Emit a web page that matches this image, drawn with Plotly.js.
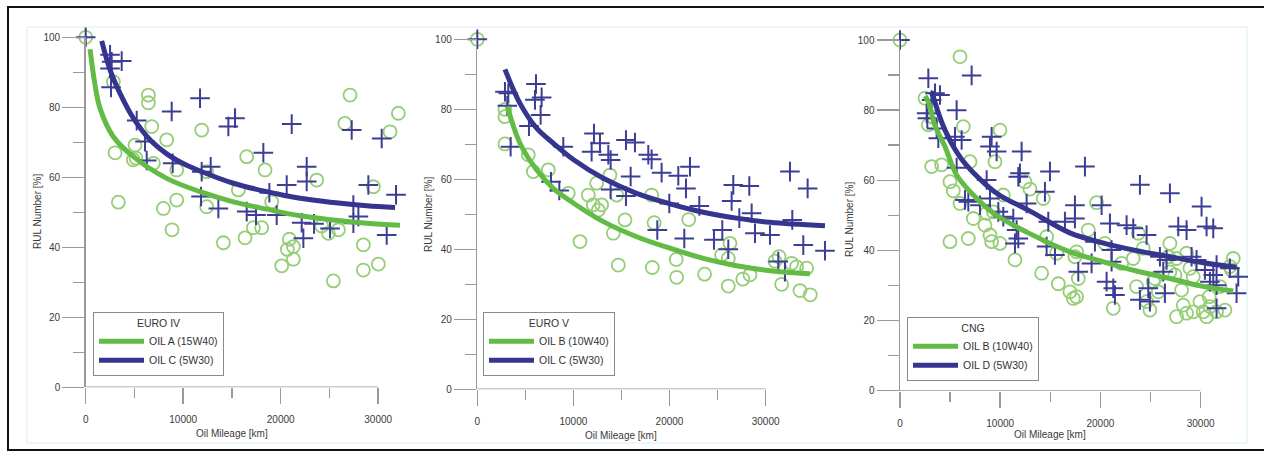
<!DOCTYPE html>
<html><head><meta charset="utf-8">
<script src="https://cdn.plot.ly/plotly-3.0.1.min.js"></script>
<style>html,body{margin:0;padding:0;background:#fff}#chart{width:1264px;height:461px}</style>
</head><body><div id="chart"></div>
<script>
// ---------- DATA ----------
// Panel 1: EURO IV
const p1GreenX = [0,2838,3009,3350,4890,5060,5150,6430,6430,6770,6940,7966,8308,8855,9333,9333,11897,12410,12410,14120,15658,16342,16513,17197,18051,18393,19077,20103,20684,20889,21300,21300,23692,24205,24889,25915,25402,26581,27111,28478,28478,29504,30017,31214,32068];
const p1GreenY = [100,87.3,67.0,52.9,65.0,69.2,65.5,83.5,81.3,74.5,64.0,51.1,70.7,45.0,62.1,53.5,73.5,61.6,51.6,41.3,56.4,42.7,65.9,45.6,45.6,62.1,53.0,34.7,39.4,42.3,40.2,36.6,59.2,46.1,44.0,45.0,30.4,75.4,83.5,33.5,40.7,57.3,35.2,73.0,78.3];
const p1BlueX = [0,2496,2667,3692,2496,2598,5231,6085,6256,8820,8923,11726,11897,11829,12821,13607,14632,15316,16513,17470,18222,18838,19590,20615,21128,22154,22325,22667,22667,23419,25060,27282,27453,27453,27966,28991,30359,30872,31829];
const p1BlueY = [100,95.0,93.0,93.2,91.1,85.7,76.2,70.2,64.8,78.8,64.0,82.6,61.6,54.5,63.0,51.1,74.5,76.9,50.2,49.2,67.0,55.6,49.2,57.8,75.2,47.0,42.6,63.0,58.8,46.7,45.4,73.5,52.1,46.9,48.8,57.8,71.1,43.5,55.0];
const p1FitGreenX = [444,957,1470,2838,4889,8308,11726,15145,18564,21983,25402,28820,32239];
const p1FitGreenY = [96.6,86.4,79.7,71.6,65.9,59.7,55.9,53.0,50.9,49.0,47.8,46.9,46.3];
const p1FitBlueX = [1641,2496,3521,4889,6598,8308,9949,11726,15145,18564,21983,25402,28820,31726];
const p1FitBlueY = [99.0,90.7,84.0,76.9,70.7,66.7,64.0,61.8,58.3,55.9,54.0,52.8,51.9,51.4];

// Panel 2: EURO V
const p2GreenX = [0,2879,2879,2879,5307,5827,7388,9469,10683,11550,12071,12591,12938,12418,13805,14500,14152,14672,15366,18141,18400,18210,20700,20742,22000,23650,25425,26119,26292,26119,27630,28374,30975,31400,31668,32709,33229,33576,34270,34650];
const p2GreenY = [100,80.0,77.9,70.1,67.0,62.2,62.7,56.0,42.2,55.5,52.7,51.2,52.7,58.9,61.2,55.5,44.6,35.5,48.4,55.5,47.6,34.8,37.1,32.0,48.5,32.9,38.4,29.5,41.7,37.4,31.5,32.7,36.6,37.9,30.0,36.0,35.0,28.2,34.6,27.0];
const p2BlueX = [0,2879,3226,3122,3469,6105,6001,6694,6590,5376,8949,7666,8533,12140,11897,12765,13632,13875,13875,15470,16407,15956,15470,17794,18141,19181,18731,19979,20916,21714,22130,21540,23101,24627,25494,26119,26639,26466,28305,27264,28548,28895,30456,31321,32015,32535,32778,33923,34374,36179];
const p2BlueY = [100,85.0,84.6,81.0,69.3,87.2,82.7,83.4,78.4,75.2,69.3,59.3,56.8,73.1,67.9,70.3,67.0,65.5,57.1,71.2,70.5,60.8,55.2,67.0,65.7,61.9,45.5,53.1,61.0,57.4,63.6,43.1,52.4,42.7,45.5,40.0,58.4,53.8,58.1,48.9,50.3,44.6,44.1,36.5,33.6,62.2,48.4,41.2,57.4,39.6];
const p2FitGreenX = [3122,4440,6174,7908,10059,13111,16580,20048,23517,26986,30455,34617];
const p2FitGreenY = [80.8,70.3,62.7,57.4,53.1,47.9,43.6,40.3,37.4,35.3,33.9,33.0];
const p2FitBlueX = [2879,4440,6174,7908,10059,13111,16580,20048,23517,26986,30455,36179];
const p2FitBlueY = [91.4,81.7,74.6,70.3,65.5,60.3,56.0,53.0,50.6,48.9,47.7,46.7];

// Panel 3: CNG
const p3GreenX = [0,5986,2494,2827,3300,3159,4157,6319,6984,9478,9977,4988,5321,5987,4988,6817,7316,8480,8647,8979,9145,9977,9312,10309,11473,12471,12970,14300,14633,14134,15630,15797,16960,17625,17459,17792,17625,17293,18790,19621,20452,21283,22115,23279,23611,23778,24277,24610,24942,25275,25441,25774,26772,26938,26938,27436,27603,27603,28102,28268,28600,28600,28933,29265,29265,29931,30264,30596,30863,30929,31595,31927,32426,32925,33091,33258];
const p3GreenY = [100,95.2,83.4,75.8,78.0,63.9,64.4,75.3,65.3,65.3,74.3,59.6,57.0,53.4,42.5,43.4,49.1,47.2,50.6,44.4,42.5,42.0,51.0,55.8,37.3,59.6,57.5,54.8,43.9,33.5,39.2,30.5,28.2,26.8,38.2,32.0,39.6,26.3,45.8,53.6,42.0,23.5,36.3,37.7,29.7,44.9,40.6,25.4,23.0,31.1,32.0,28.2,38.2,42.0,33.9,33.0,21.1,37.7,28.7,24.4,22.1,39.2,34.9,32.5,22.5,25.4,22.5,21.1,26.8,24.0,22.5,29.7,23.0,35.4,34.4,37.7];
const p3BlueX = [0,2827,7150,3492,3991,3159,2660,2727,5653,3824,3658,5487,6152,5653,6485,6817,7981,8979,8647,9145,8979,9645,9811,10309,11307,11639,11806,11473,12138,11972,11806,12637,14965,14466,14799,14633,15465,16461,17459,17459,17792,18457,19455,19122,20120,20951,21117,21117,20619,21283,21450,22614,23279,23944,24610,24776,23944,24942,25940,26605,26273,26439,26938,27769,28600,29099,29598,30097,30596,31262,30430,31262,31595,30929,31595,31595,32925,33757,33590];
const p3BlueY = [100,89.1,89.9,84.8,84.3,82.9,79.1,77.7,80.0,72.0,74.8,72.4,71.5,63.6,54.4,53.9,52.9,54.8,60.1,72.4,69.6,68.2,51.0,49.6,49.1,45.8,43.4,42.0,68.2,62.0,61.0,53.4,62.5,56.7,48.2,41.1,38.7,48.2,52.9,49.1,33.9,63.9,42.5,36.3,52.9,47.7,40.1,36.8,31.1,29.2,27.3,47.2,46.3,58.7,44.4,29.2,25.9,25.4,38.2,37.3,33.9,27.8,56.3,46.8,45.8,38.2,37.3,52.5,46.8,46.3,34.4,33.0,35.8,31.1,30.1,23.5,34.9,32.5,27.8];
const p3FitGreenX = [2494,2827,3500,4490,5653,7316,9478,12803,16960,20000,23500,26938,30000,33258];
const p3FitGreenY = [84.0,82.4,75.5,69.6,61.5,55.8,50.3,45.0,39.6,37.0,34.2,32.0,29.9,28.4];
const p3FitBlueX = [3159,4490,6152,8480,10076,12803,16960,20000,23500,26938,30000,33590];
const p3FitBlueY = [85.3,74.3,66.0,59.0,55.5,51.5,45.0,42.3,40.0,38.2,36.6,35.2];

const legendTitles = ['EURO IV','EURO V','CNG'];
const greenNames = ['OIL A (15W40)','OIL B (10W40)','OIL B (10W40)'];
const blueNames = ['OIL C (5W30)','OIL C (5W30)','OIL D (5W30)'];
const yTickVals = [0,20,40,60,80,100];
const xTickVals = [0,10000,20000,30000];

// ---------- LAYOUT GEOMETRY (pixels) ----------
const W = 1264, H = 461;
const fx = px => px / W;
const fy = py => 1 - py / H;
const panels = [
  {x0:85.7, k:97.5, xmax:33000, top:37.3, bot:387.3, leg:[93,312], ytx:37, yty:212, xty:433},
  {x0:477.3, k:96.1, xmax:37000, top:39.3, bot:389.3, leg:[483,312], ytx:428, yty:214, xty:435},
  {x0:900, k:100.2, xmax:34500, top:40, bot:390.7, leg:[907,317], ytx:850, yty:220, xty:434}
];
const data = [
  [p1GreenX,p1GreenY,p1BlueX,p1BlueY,p1FitGreenX,p1FitGreenY,p1FitBlueX,p1FitBlueY],
  [p2GreenX,p2GreenY,p2BlueX,p2BlueY,p2FitGreenX,p2FitGreenY,p2FitBlueX,p2FitBlueY],
  [p3GreenX,p3GreenY,p3BlueX,p3BlueY,p3FitGreenX,p3FitGreenY,p3FitBlueX,p3FitBlueY]
];

const GREEN_MK = '#96ce78', GREEN_LN = '#62bb45', BLUE_MK = '#3d3d96', BLUE_LN = '#35358f';
const AX = '#9a9a9a';
const FONT = 'Liberation Sans, Arial, sans-serif';

const traces = [];
const layout = {
  width: W, height: H, margin:{l:0,r:0,t:0,b:0},
  paper_bgcolor:'#fff', plot_bgcolor:'rgba(0,0,0,0)',
  font:{family:FONT, size:10, color:'#3a3a3a'},
  showlegend:true, shapes:[], annotations:[]
};

panels.forEach((p, i) => {
  const n = i === 0 ? '' : String(i + 1);
  const xa = 'x' + n, ya = 'y' + n;
  const [gx, gy, bx, by, fgx, fgy, fbx, fby] = data[i];
  const leg = i === 0 ? 'legend' : 'legend' + n;
  traces.push({x:gx, y:gy, xaxis:xa, yaxis:ya, type:'scatter', mode:'markers', cliponaxis:false, showlegend:false,
    marker:{symbol:'circle-open', size:13, color:GREEN_MK, line:{width:1.8}}});
  traces.push({x:bx, y:by, xaxis:xa, yaxis:ya, type:'scatter', mode:'markers', cliponaxis:false, showlegend:false,
    marker:{symbol:'cross-thin-open', size:14, color:BLUE_MK, line:{width:2}}});
  traces.push({x:fgx, y:fgy, xaxis:xa, yaxis:ya, type:'scatter', mode:'lines', name:greenNames[i], legend:leg,
    line:{color:GREEN_LN, width:5, shape:'spline', smoothing:1}});
  traces.push({x:fbx, y:fby, xaxis:xa, yaxis:ya, type:'scatter', mode:'lines', name:blueNames[i], legend:leg,
    line:{color:BLUE_LN, width:5, shape:'spline', smoothing:1}});

  const xr = p.x0 + p.xmax / 10000 * p.k;
  layout['xaxis' + n] = {
    domain:[fx(p.x0), fx(xr)], range:[0, p.xmax], anchor:ya,
    showline:false, zeroline:false, showgrid:false,
    tickvals:xTickVals, tickformat:'d', ticks:'outside', ticklen:16, tickwidth:1.5, tickcolor:AX,
    minor:{tickvals:[5000,15000,25000], ticks:'outside', ticklen:10, tickwidth:1.5, tickcolor:AX},
    ticklabelstandoff:7, tickfont:{size:10, color:'#3a3a3a'}, fixedrange:true
  };
  layout['yaxis' + n] = {
    domain:[fy(p.bot), fy(p.top)], range:[0, 100], anchor:xa,
    showline:true, linecolor:AX, linewidth:1.5, zeroline:false, showgrid:false,
    tickvals:yTickVals, ticks:'outside', ticklen:22, tickwidth:1.5, tickcolor:AX,
    minor:{dtick:10, ticks:'outside', ticklen:11, tickwidth:1.5, tickcolor:AX},
    tickfont:{size:10, color:'#3a3a3a'}, fixedrange:true
  };
  layout.shapes.push({type:'line', xref:xa, yref:ya, x0:0, x1:30000, y0:0, y1:0, line:{color:AX, width:1.5}});
  layout.annotations.push({text:'RUL Number [%]', xref:'paper', yref:'paper', x:fx(p.ytx), y:fy(p.yty),
    textangle:-90, showarrow:false, xanchor:'center', yanchor:'middle', font:{size:10, color:'#3a3a3a'}});
  layout.annotations.push({text:'Oil Mileage [km]', xref:xa, yref:'paper', x:15000, y:fy(p.xty),
    showarrow:false, xanchor:'center', yanchor:'middle', font:{size:10, color:'#3a3a3a'}});
  layout[leg] = {
    x:fx(p.leg[0]), y:fy(p.leg[1]), xanchor:'left', yanchor:'top', xref:'paper', yref:'paper',
    bgcolor:'#fff', bordercolor:'#8a8a8a', borderwidth:1, itemwidth:45, tracegroupgap:0,
    font:{size:10.5, color:'#333', family:FONT},
    title:{text:legendTitles[i], side:'top center', font:{size:10.5, color:'#333', family:FONT}}
  };
});

// figure frame (scanned figure border)
layout.shapes.push({type:'rect', xref:'paper', yref:'paper', x0:fx(27), x1:fx(1247), y0:fy(443), y1:fy(27),
  line:{color:'#d6eef6', width:1}, layer:'below'});
layout.shapes.push({type:'rect', xref:'paper', yref:'paper', x0:fx(8), x1:fx(1275), y0:fy(450), y1:fy(7),
  line:{color:'#111', width:2}, layer:'below'});

Plotly.newPlot('chart', traces, layout, {staticPlot:true, displayModeBar:false});
</script>
</body></html>
